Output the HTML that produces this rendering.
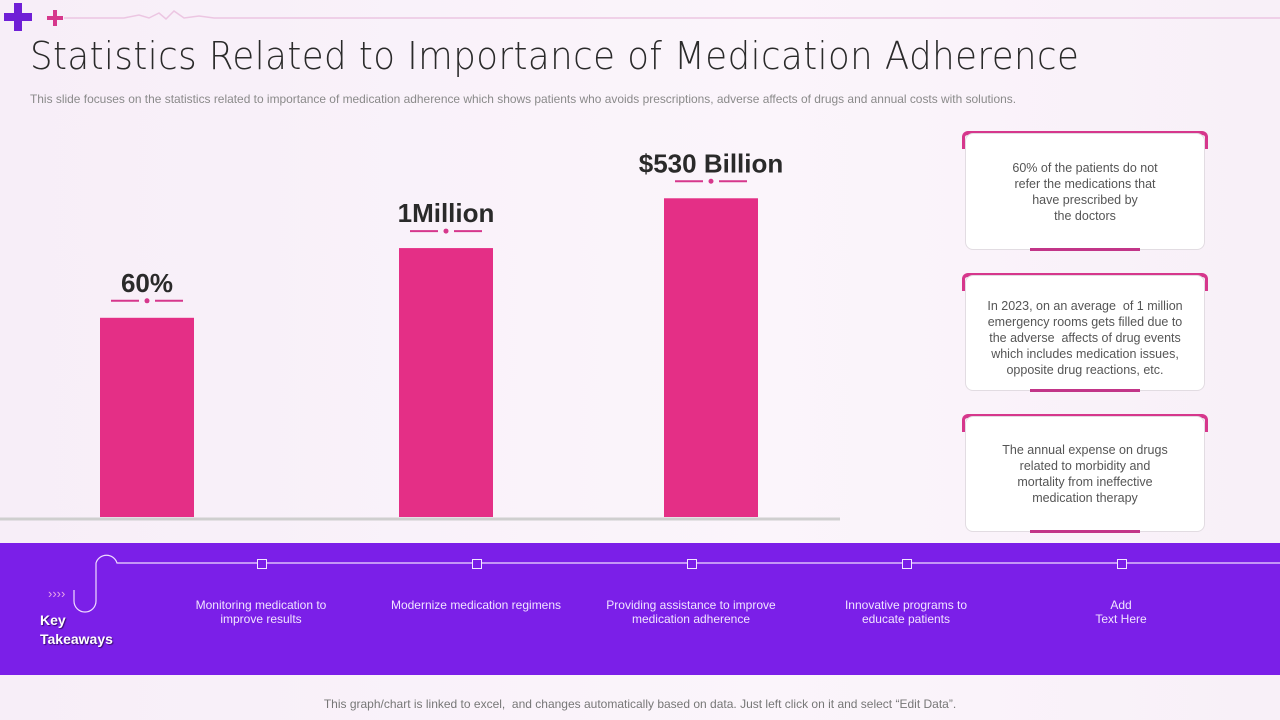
<!DOCTYPE html>
<html><head><meta charset="utf-8">
<style>
body{margin:0;width:1280px;height:720px;overflow:hidden;font-family:"Liberation Sans",sans-serif;background:linear-gradient(90deg,#f7eef8 0%,#fbf5fb 60%,#f8f0f8 100%);position:relative}
.abs{position:absolute}
.card{position:absolute;left:965px;width:240px;background:#fff;border:1px solid #e2dce2;border-radius:8px;box-sizing:border-box;text-align:center;color:#555;font-size:12.5px;line-height:16px}
.tab{position:absolute;left:962px;width:246px;height:18px;border-top:4px solid #d6378c;border-radius:6px 6px 0 0;box-sizing:border-box;border-left:3px solid #d6378c;border-right:3px solid #d6378c}
.bl{position:absolute;left:1030px;width:110px;height:3px;background:#c23588}
.kt{position:absolute;color:#f1e4ff;font-size:12px;text-align:center;width:200px;line-height:14px}
.sq{position:absolute;top:559px;width:8px;height:8px;border:1px solid #f3e8ff;background:#7b1fe8}
</style></head><body>
<div class="abs" style="left:4px;top:3px;width:28px;height:28px">
<div class="abs" style="left:10px;top:0;width:8px;height:28px;background:#6f1fd6"></div><div class="abs" style="left:0;top:10px;width:28px;height:8px;background:#6f1fd6"></div></div>
<div class="abs" style="left:47px;top:10px;width:16px;height:16px">
<div class="abs" style="left:6px;top:0;width:4px;height:16px;background:#d6378c"></div><div class="abs" style="left:0;top:6px;width:16px;height:4px;background:#d6378c"></div></div>
<svg class="abs" style="left:64px;top:8px" width="1216" height="16"><polyline points="0,10 60,10 75,7 85,10 95,5 102,11 110,3 120,10 135,8 150,10 1216,10" fill="none" stroke="#ecc6e2" stroke-width="1.5"/></svg>
<div class="abs" style="left:30px;top:34px;font-size:38px;color:#2a2a2a;letter-spacing:0.5px;font-family:'DejaVu Sans','Liberation Sans',sans-serif;font-weight:300;transform:scaleX(0.935);transform-origin:left;white-space:nowrap">Statistics Related to Importance of Medication Adherence</div>
<div class="abs" style="left:30px;top:92px;font-size:12px;color:#8a8a8a;white-space:nowrap;transform:scaleX(0.995);transform-origin:left">This slide focuses on the statistics related to importance of medication adherence which shows patients who avoids prescriptions, adverse affects of drugs and annual costs with solutions.</div>

<svg id="chart" class="abs" style="left:0;top:0" width="850" height="530"></svg>

<div class="tab" style="top:131px"></div>
<div class="card" style="top:133px;height:117px;padding-top:26px">60% of the patients do not<br>refer the medications that<br>have prescribed by<br>the doctors</div>
<div class="bl" style="top:248px"></div>
<div class="tab" style="top:273px"></div>
<div class="card" style="top:275px;height:116px;padding-top:22px">In 2023, on an average &nbsp;of 1 million<br>emergency rooms gets filled due to<br>the adverse &nbsp;affects of drug events<br>which includes medication issues,<br>opposite drug reactions, etc.</div>
<div class="bl" style="top:389px"></div>
<div class="tab" style="top:414px"></div>
<div class="card" style="top:416px;height:116px;padding-top:25px">The annual expense on drugs<br>related to morbidity and<br>mortality from ineffective<br>medication therapy</div>
<div class="bl" style="top:530px"></div>

<div class="abs" style="left:0;top:543px;width:1280px;height:132px;background:#7b1fe8"></div>
<svg class="abs" style="left:0;top:543px" width="1280" height="132">
<path d="M1280,20 H117 A11,11 0 0 0 96,20 V58 A11,11 0 0 1 74,58 V47" fill="none" stroke="#f0dcff" stroke-width="1.2"/>
<text x="48" y="55" fill="#e9a6e8" font-size="13" font-family="Liberation Sans">››››</text></svg>
<div class="sq" style="left:257px"></div><div class="sq" style="left:472px"></div><div class="sq" style="left:687px"></div><div class="sq" style="left:902px"></div><div class="sq" style="left:1117px"></div>
<div class="abs" style="left:40px;top:611px;color:#fff;font-weight:bold;font-size:14px;line-height:19px;text-shadow:1px 1px 1px #3a0a70">Key<br>Takeaways</div>
<div class="kt" style="left:161px;top:598px">Monitoring medication to<br>improve results</div>
<div class="kt" style="left:376px;top:598px">Modernize medication regimens</div>
<div class="kt" style="left:591px;top:598px">Providing assistance to improve<br>medication adherence</div>
<div class="kt" style="left:806px;top:598px">Innovative programs to<br>educate patients</div>
<div class="kt" style="left:1021px;top:598px">Add<br>Text Here</div>
<div class="abs" style="left:0;width:1280px;text-align:center;top:697px;font-size:12px;color:#777">This graph/chart is linked to excel, &nbsp;and changes automatically based on data. Just left click on it and select “Edit Data”.</div>

<script>
const categories=["60%","1Million","$530 Billion"];
const values=[60,81,96];
const centers=[147,446,711];
const svg=document.getElementById('chart');
const NS='http://www.w3.org/2000/svg';
const base=517, scale=3.32, bw=94;
function y(v){return base-v*scale;}
const ax=document.createElementNS(NS,'line');
ax.setAttribute('x1',0);ax.setAttribute('x2',840);ax.setAttribute('y1',base+2);ax.setAttribute('y2',base+2);
ax.setAttribute('stroke','#cfcfcf');ax.setAttribute('stroke-width',3);


svg.appendChild(ax);
values.forEach((v,i)=>{
 const cx=centers[i], top=y(v);
 const r=document.createElementNS(NS,'rect');
 r.setAttribute('x',cx-bw/2);r.setAttribute('y',top);r.setAttribute('width',bw);r.setAttribute('height',base-top);r.setAttribute('fill','#e42f86');
 
 
 svg.appendChild(r);
 const t=document.createElementNS(NS,'text');
 t.setAttribute('x',cx);t.setAttribute('y',top-26);t.setAttribute('text-anchor','middle');
 t.setAttribute('font-size','26');t.setAttribute('font-weight','bold');t.setAttribute('fill','#2a2a2a');t.setAttribute('font-family','Liberation Sans');
 t.textContent=categories[i];
 
 
 svg.appendChild(t);
 const d=document.createElementNS(NS,'path');
 d.setAttribute('d',`M${cx-36},${top-17}H${cx-8}M${cx+8},${top-17}H${cx+36}`);
 d.setAttribute('stroke','#d6378c');d.setAttribute('stroke-width',2);
 
 
 svg.appendChild(d);
 const c=document.createElementNS(NS,'circle');
 c.setAttribute('cx',cx);c.setAttribute('cy',top-17);c.setAttribute('r',2.5);c.setAttribute('fill','#d6378c');
 
 
 svg.appendChild(c);
});
</script>
</body></html>
